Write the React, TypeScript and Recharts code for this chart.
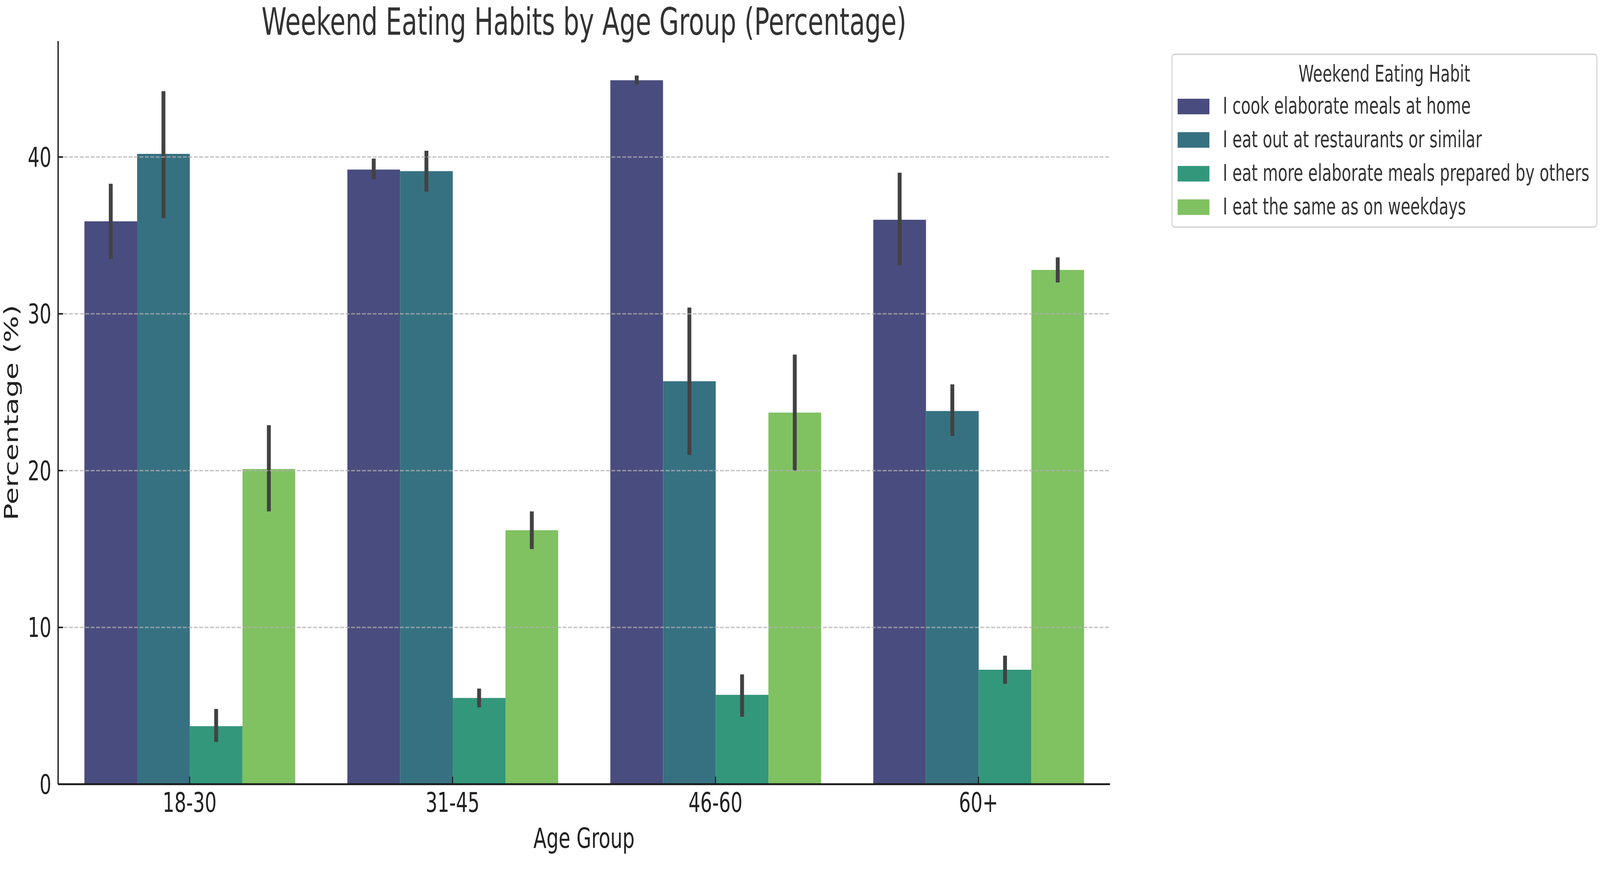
import { BarChart, Bar, XAxis, YAxis, ErrorBar, ReferenceLine, Legend } from 'recharts'

// values (percent), seaborn style 95% CI bars
const ageGroups = ['18-30', '31-45', '46-60', '60+']

const cookHome = [35.9, 39.2, 44.9, 36.0]
const cookHomeLow = [33.5, 38.6, 44.6, 33.1]
const cookHomeHigh = [38.3, 39.9, 45.2, 39.0]

const eatOut = [40.2, 39.1, 25.7, 23.8]
const eatOutLow = [36.1, 37.8, 21.0, 22.2]
const eatOutHigh = [44.2, 40.4, 30.4, 25.5]

const preparedByOthers = [3.7, 5.5, 5.7, 7.3]
const preparedByOthersLow = [2.7, 4.9, 4.3, 6.4]
const preparedByOthersHigh = [4.8, 6.1, 7.0, 8.2]

const sameAsWeekdays = [20.1, 16.2, 23.7, 32.8]
const sameAsWeekdaysLow = [17.4, 15.0, 20.0, 32.0]
const sameAsWeekdaysHigh = [22.9, 17.4, 27.4, 33.6]

const yTicks = [0, 10, 20, 30, 40]
const gridValues = [10, 20, 30, 40]

const series = [
  { key: 'cook', name: 'I cook elaborate meals at home', color: '#494c7e', values: cookHome, low: cookHomeLow, high: cookHomeHigh },
  { key: 'out', name: 'I eat out at restaurants or similar', color: '#367182', values: eatOut, low: eatOutLow, high: eatOutHigh },
  { key: 'others', name: 'I eat more elaborate meals prepared by others', color: '#33977c', values: preparedByOthers, low: preparedByOthersLow, high: preparedByOthersHigh },
  { key: 'same', name: 'I eat the same as on weekdays', color: '#80c161', values: sameAsWeekdays, low: sameAsWeekdaysLow, high: sameAsWeekdaysHigh },
]

const data = ageGroups.map((group, i) => {
  const row: Record<string, any> = { group }
  series.forEach((s) => {
    row[s.key] = s.values[i]
    row[s.key + 'Err'] = [s.values[i] - s.low[i], s.high[i] - s.values[i]]
  })
  return row
})

// the reference is horizontally squeezed, so draw wide and squeeze the same way
const SQUEEZE = 0.68
const OUT_W = 4212
const OUT_H = 2256
const W = Math.round(OUT_W / SQUEEZE)
const H = OUT_H
const PLOT_LEFT = 225
const PLOT_RIGHT = 4297
const PLOT_TOP = 108
const PLOT_BOTTOM = 2065
const FONT = '"DejaVu Sans", Verdana, sans-serif'

function LegendBox() {
  return (
    <div
      style={{
        width: '100%',
        height: '100%',
        boxSizing: 'border-box',
        border: '4px solid #d6d6d6',
        borderRadius: 12,
        background: 'rgba(255,255,255,0.8)',
        position: 'relative',
        fontFamily: FONT,
        color: '#333',
      }}
    >
      <div style={{ position: 'absolute', top: 14, left: 0, right: 0, textAlign: 'center', fontSize: 60, lineHeight: 'normal' }}>
        Weekend Eating Habit
      </div>
      <div style={{ position: 'absolute', top: 91, left: 20 }}>
        {series.map((s) => (
          <div key={s.key} style={{ display: 'flex', alignItems: 'center', height: 88.5 }}>
            <div style={{ width: 123, height: 41, background: s.color, marginRight: 52 }} />
            <span style={{ fontSize: 60.5, lineHeight: 'normal', whiteSpace: 'nowrap', position: 'relative', top: -2 }}>{s.name}</span>
          </div>
        ))}
      </div>
    </div>
  )
}

export default function App() {
  // fit the drawing to the width the page is really given (same factor both ways)
  const vw = typeof window !== 'undefined' && window.innerWidth ? window.innerWidth : OUT_W
  const fit = vw / OUT_W

  return (
    <div style={{ position: 'absolute', left: 0, top: 0, width: OUT_W * fit, height: OUT_H * fit, overflow: 'hidden', background: '#fff' }}>
      <div style={{ position: 'relative', width: W, height: H, transform: `scale(${SQUEEZE * fit}, ${fit})`, transformOrigin: '0 0' }}>
        <BarChart
          width={W}
          height={H}
          data={data}
          margin={{ top: PLOT_TOP, right: W - PLOT_RIGHT, bottom: H - PLOT_BOTTOM - 150, left: 0 }}
          barCategoryGap="10%"
          barGap={0}
        >
          <XAxis
            dataKey="group"
            height={150}
            axisLine={{ stroke: '#1a1a1a', strokeWidth: 5 }}
            tickLine={{ stroke: '#1a1a1a', strokeWidth: 4 }}
            tickSize={-20}
            tickMargin={42}
            tick={{ fill: '#222', fontSize: 72, fontFamily: FONT }}
            label={{
              content: (props: any) => {
                const vb = props.viewBox
                return (
                  <text x={vb.x + vb.width / 2} y={vb.y + 168} textAnchor="middle" fill="#222" fontSize={74} fontFamily={FONT}>
                    Age Group
                  </text>
                )
              },
            }}
          />
          <YAxis
            type="number"
            domain={[0, 47.4]}
            ticks={yTicks}
            width={PLOT_LEFT}
            axisLine={{ stroke: '#1a1a1a', strokeWidth: 5 }}
            tickLine={{ stroke: '#1a1a1a', strokeWidth: 4 }}
            tickSize={-19}
            tickMargin={45}
            tick={{ fill: '#222', fontSize: 72, fontFamily: FONT }}
            label={{
              content: (props: any) => {
                const vb = props.viewBox
                const cx = vb.x + 70
                const cy = vb.y + vb.height / 2
                return (
                  <text x={cx} y={cy} transform={`rotate(-90 ${cx} ${cy})`} textAnchor="middle" fill="#222" fontSize={74} fontFamily={FONT}>
                    Percentage (%)
                  </text>
                )
              },
            }}
          />
          {series.map((s) => (
            <Bar key={s.key} dataKey={s.key} name={s.name} fill={s.color} isAnimationActive={false}>
              <ErrorBar dataKey={s.key + 'Err'} width={0} stroke="#424242" strokeWidth={15} />
            </Bar>
          ))}
          {gridValues.map((v) => (
            <ReferenceLine key={v} y={v} stroke="#b0b0b0" strokeOpacity={0.7} strokeWidth={4} strokeDasharray="15 6" />
          ))}
          <Legend
            align="center"
            verticalAlign="middle"
            content={() => <LegendBox />}
            wrapperStyle={{ left: 4535, top: 141, width: W - 4535 - 10, height: 459 }}
          />
        </BarChart>
        <svg width={W} height={H} style={{ position: 'absolute', left: 0, top: 0, pointerEvents: 'none' }}>
          <text x={(PLOT_LEFT + PLOT_RIGHT) / 2} y={92} textAnchor="middle" fill="#333" fontSize={98} fontFamily={FONT}>
            Weekend Eating Habits by Age Group (Percentage)
          </text>
        </svg>
      </div>
    </div>
  )
}
